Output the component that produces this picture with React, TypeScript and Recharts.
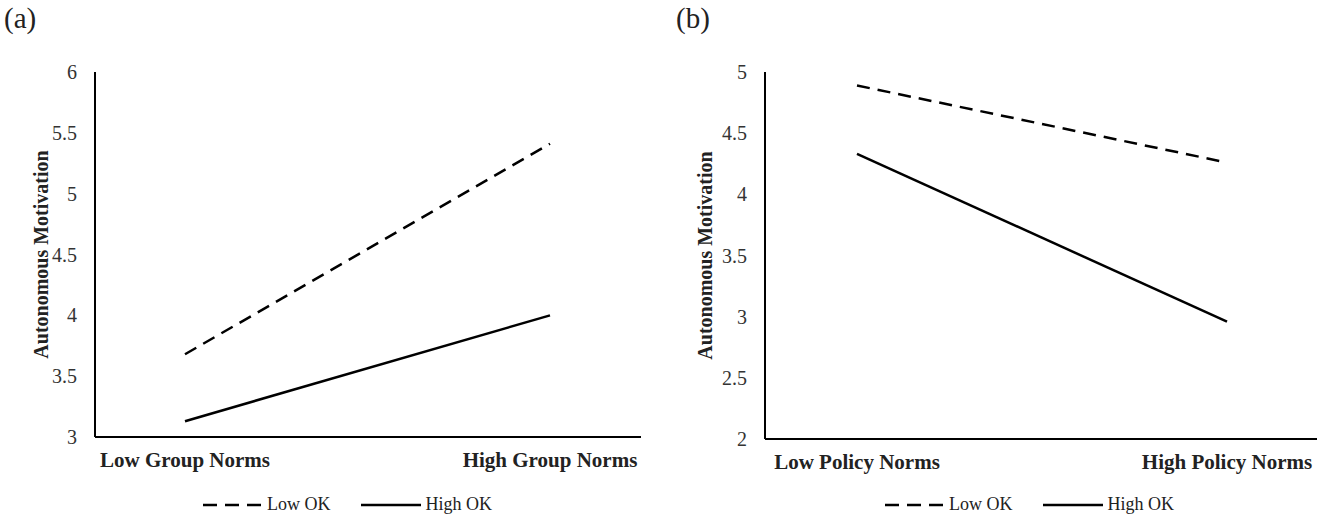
import React from 'react';
import { LineChart, Line, XAxis, YAxis } from 'recharts';

// panel (a)
const groupCategories = ['Low Group Norms', 'High Group Norms'];
const groupLowOK = [3.68, 5.41];
const groupHighOK = [3.13, 4.0];
const groupTicks = [3, 3.5, 4, 4.5, 5, 5.5, 6];

// panel (b)
const policyCategories = ['Low Policy Norms', 'High Policy Norms'];
const policyLowOK = [4.89, 4.26];
const policyHighOK = [4.33, 2.96];
const policyTicks = [2, 2.5, 3, 3.5, 4, 4.5, 5];

const seriesNames = ['Low OK', 'High OK'];

const FONT = '"Liberation Serif", "Times New Roman", serif';

const groupData = groupCategories.map((c, i) => ({ cat: c, low: groupLowOK[i], high: groupHighOK[i] }));
const policyData = policyCategories.map((c, i) => ({ cat: c, low: policyLowOK[i], high: policyHighOK[i] }));

const LegendRow = ({ left }: { left: number }) => (
  <div
    style={{
      position: 'absolute', left, top: 494, display: 'flex', alignItems: 'center',
      fontFamily: FONT, fontSize: 18, color: '#222', whiteSpace: 'nowrap',
    }}
  >
    <svg width={60} height={10}>
      <line x1={0} y1={5} x2={60} y2={5} stroke="#000" strokeWidth={2.5} strokeDasharray="14 8" />
    </svg>
    <span style={{ marginLeft: 4 }}>{seriesNames[0]}</span>
    <svg width={60} height={10} style={{ marginLeft: 30 }}>
      <line x1={0} y1={5} x2={60} y2={5} stroke="#000" strokeWidth={2.5} />
    </svg>
    <span style={{ marginLeft: 5 }}>{seriesNames[1]}</span>
  </div>
);

interface PanelProps {
  data: any[];
  ticks: number[];
  width: number;
  marginRight: number;
  marginBottom: number;
  yWidth: number;
  padding: { left: number; right: number };
  labelX: number;
}

const Panel = ({ data, ticks, width, marginRight, marginBottom, yWidth, padding, labelX }: PanelProps) => (
  <LineChart width={width} height={514} data={data} margin={{ top: 72, right: marginRight, bottom: marginBottom, left: 0 }}>
    <XAxis
      dataKey="cat"
      height={30}
      padding={padding}
      axisLine={{ stroke: '#000', strokeWidth: 2 }}
      tickLine={false}
      tickSize={0}
      tickMargin={15}
      tick={{ fill: '#222', fontSize: 21, fontWeight: 'bold', fontFamily: FONT }}
    />
    <YAxis
      width={yWidth}
      domain={[ticks[0], ticks[ticks.length - 1]]}
      ticks={ticks}
      axisLine={{ stroke: '#000', strokeWidth: 2 }}
      tickLine={false}
      tickSize={0}
      tickMargin={18}
      tick={{ fill: '#333', fontSize: 20, fontFamily: FONT }}
      label={{
        value: 'Autonomous Motivation',
        angle: -90,
        position: 'insideLeft',
        dx: labelX,
        style: { textAnchor: 'middle', fill: '#222', fontSize: 20, fontWeight: 'bold', fontFamily: FONT },
      }}
    />
    <Line dataKey="low" name={seriesNames[0]} stroke="#000" strokeWidth={2.5} strokeDasharray="13 8" dot={false} isAnimationActive={false} />
    <Line dataKey="high" name={seriesNames[1]} stroke="#000" strokeWidth={2.5} dot={false} isAnimationActive={false} />
  </LineChart>
);

export default function App() {
  return (
    <div style={{ position: 'absolute', left: 0, top: 0, width: 1317, height: 514, background: '#fff', overflow: 'hidden' }}>
      <div style={{ position: 'absolute', left: 4, top: 2, fontFamily: FONT, fontSize: 29, color: '#222' }}>(a)</div>
      <div style={{ position: 'absolute', left: 676, top: 2, fontFamily: FONT, fontSize: 29, color: '#222' }}>(b)</div>
      <div style={{ position: 'absolute', left: 0, top: 0 }}>
        <Panel
          data={groupData}
          ticks={groupTicks}
          width={660}
          marginRight={19}
          marginBottom={47}
          yWidth={95}
          padding={{ left: 90, right: 91 }}
          labelX={36}
        />
      </div>
      <div style={{ position: 'absolute', left: 660, top: 0 }}>
        <Panel
          data={policyData}
          ticks={policyTicks}
          width={657}
          marginRight={0}
          marginBottom={45}
          yWidth={105}
          padding={{ left: 92, right: 90 }}
          labelX={40}
        />
      </div>
      <LegendRow left={203} />
      <LegendRow left={885} />
    </div>
  );
}
